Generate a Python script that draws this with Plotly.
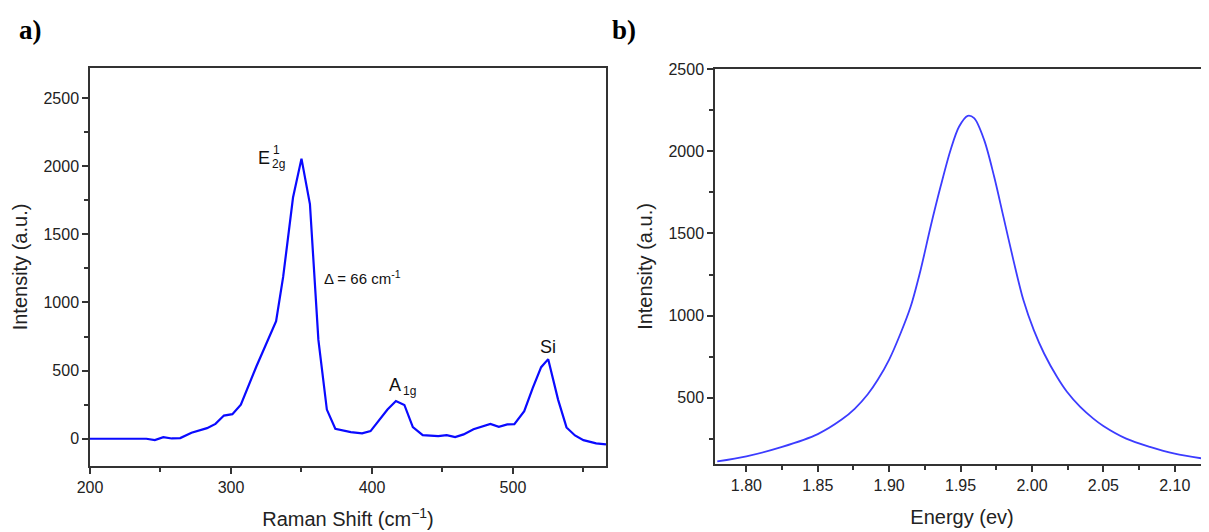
import plotly.graph_objects as go

# ---- Panel a: Raman spectrum ----
raman_shift = [200, 210, 220, 230, 240, 246, 252, 258, 264, 272, 283, 289, 295, 301, 307,
               318, 325, 332, 337, 344, 350, 356, 362, 368, 374, 385, 393, 399, 411, 417,
               423, 429, 436, 447, 453, 459, 465, 472, 484, 490, 496, 501, 508, 514, 520,
               525, 532, 538, 544, 550, 559, 566]
raman_intensity = [0, 0, 0, 0, 0, -10, 12, 2, 5, 44, 78, 109, 170, 180, 250,
                   530, 700, 863, 1187, 1770, 2055, 1722, 725, 214, 73, 49, 39, 56, 214, 277,
                   248, 85, 27, 19, 27, 12, 32, 70, 109, 88, 105, 107, 202, 372, 525,
                   584, 287, 83, 24, -10, -34, -41]

# ---- Panel b: PL spectrum ----
energy = [1.7796, 1.800, 1.825, 1.850, 1.8667, 1.876, 1.885, 1.892, 1.900, 1.908, 1.915,
          1.922, 1.929, 1.936, 1.943, 1.949, 1.955, 1.9595, 1.9665, 1.9735, 1.980, 1.987,
          1.994, 2.0013, 2.0085, 2.0175, 2.0245, 2.0338, 2.043, 2.050, 2.066, 2.0826,
          2.100, 2.1237]
pl_intensity = [114, 145, 202, 280, 368, 435, 522, 610, 733, 893, 1054,
                1278, 1541, 1785, 2008, 2150, 2215, 2201, 2069, 1846, 1602, 1338,
                1095, 912, 770, 628, 537, 445, 374, 329, 252, 202,
                161, 126]

raman_xticks = [200, 300, 400, 500]
pl_xticks = [1.80, 1.85, 1.90, 1.95, 2.00, 2.05, 2.10]
y_ticks = [0, 500, 1000, 1500, 2000, 2500]

# page body adds an 8px offset; figure sized to fill the remaining window
OFF = 8
W, H = 1209 - OFF, 532 - OFF
FONT = "Liberation Sans, Arial, sans-serif"
AX = "#333333"


def px(x):
    return (x - OFF) / W


def py(y):
    return (H - (y - OFF)) / H


fig = go.Figure()
fig.add_trace(go.Scatter(x=raman_shift, y=raman_intensity, mode="lines",
                         line=dict(color="#0a0aff", width=2.2), xaxis="x", yaxis="y",
                         showlegend=False, hoverinfo="skip"))
fig.add_trace(go.Scatter(x=energy, y=pl_intensity, mode="lines",
                         line=dict(color="#3c3cff", width=1.8, shape="spline", smoothing=0.9),
                         xaxis="x2", yaxis="y2", showlegend=False, hoverinfo="skip"))

common = dict(showline=True, linecolor=AX, linewidth=1.5, ticks="outside", ticklen=6,
              tickwidth=1.5, tickcolor=AX, showgrid=False, zeroline=False, automargin=False,
              tickfont=dict(family=FONT, size=16, color="#222222"),
              title_font=dict(family=FONT, size=20, color="#222222"))
minor = dict(ticks="outside", ticklen=4, tickwidth=1.5, tickcolor=AX, showgrid=False)

fig.update_layout(
    width=W, height=H, margin=dict(l=0, r=0, t=0, b=0),
    paper_bgcolor="white", plot_bgcolor="white",
    xaxis=dict(**common, domain=[px(90), px(606)], range=[200, 566], anchor="y",
               tickvals=raman_xticks, mirror=True,
               minor=dict(**minor, tickvals=[250, 350, 450, 550]),
               title=dict(text="Raman Shift (cm<sup>\u22121</sup>)", standoff=17)),
    yaxis=dict(**common, domain=[py(466), py(68)], range=[-200, 2720], anchor="x",
               tickvals=y_ticks, mirror=True,
               minor=dict(**minor, tickvals=[250, 750, 1250, 1750, 2250]),
               title=dict(text="Intensity (a.u.)", standoff=10)),
    xaxis2=dict(**common, domain=[px(715), 1.0], range=[1.778, 2.124], anchor="y2",
                tickvals=pl_xticks, tickformat=".2f", mirror=True,
                minor=dict(**minor, tickvals=[1.825, 1.875, 1.925, 1.975, 2.025, 2.075, 2.125]),
                title=dict(text="Energy (ev)", standoff=17)),
    yaxis2=dict(**common, domain=[py(464), py(69)], range=[98, 2500], anchor="x2",
                tickvals=y_ticks[1:], mirror=False,
                minor=dict(**minor, tickvals=[250, 750, 1250, 1750, 2250]),
                title=dict(text="Intensity (a.u.)", standoff=10)),
)

ann_font = dict(family=FONT, size=18, color="#111111")
small_font = dict(family=FONT, size=12, color="#111111")
label_font = dict(family="Liberation Serif, Times New Roman, serif", size=27, color="black")
anns = [
    # panel labels
    dict(text="<b>a)</b>", xref="paper", yref="paper", x=px(17), y=py(30),
         xanchor="left", yanchor="middle", showarrow=False, font=label_font),
    dict(text="<b>b)</b>", xref="paper", yref="paper", x=px(610), y=py(30),
         xanchor="left", yanchor="middle", showarrow=False, font=label_font),
    # E2g^1
    dict(text="E", x=329, y=2060, xref="x", yref="y", xanchor="right", yanchor="middle",
         showarrow=False, font=ann_font),
    dict(text="1", x=329, y=2060, xref="x", yref="y", xanchor="left", yanchor="middle",
         xshift=-1, yshift=8, showarrow=False, font=small_font),
    dict(text="2g", x=329, y=2060, xref="x", yref="y", xanchor="left", yanchor="middle",
         xshift=-2, yshift=-6, showarrow=False, font=small_font),
    # delta
    dict(text="\u0394 = 66 cm<sup>-1</sup>", x=364.5, y=1180, xref="x", yref="y",
         xanchor="left", yanchor="middle", showarrow=False,
         font=dict(family=FONT, size=15, color="#111111")),
    # A1g
    dict(text="A", x=422, y=396, xref="x", yref="y", xanchor="right", yanchor="middle",
         showarrow=False, font=ann_font),
    dict(text="1g", x=422, y=396, xref="x", yref="y", xanchor="left", yanchor="middle",
         xshift=-2, yshift=-6, showarrow=False, font=small_font),
    # Si
    dict(text="Si", x=525, y=674, xref="x", yref="y", xanchor="center", yanchor="middle",
         showarrow=False, font=ann_font),
]
fig.update_layout(annotations=anns)

fig.write_html("out.html")
